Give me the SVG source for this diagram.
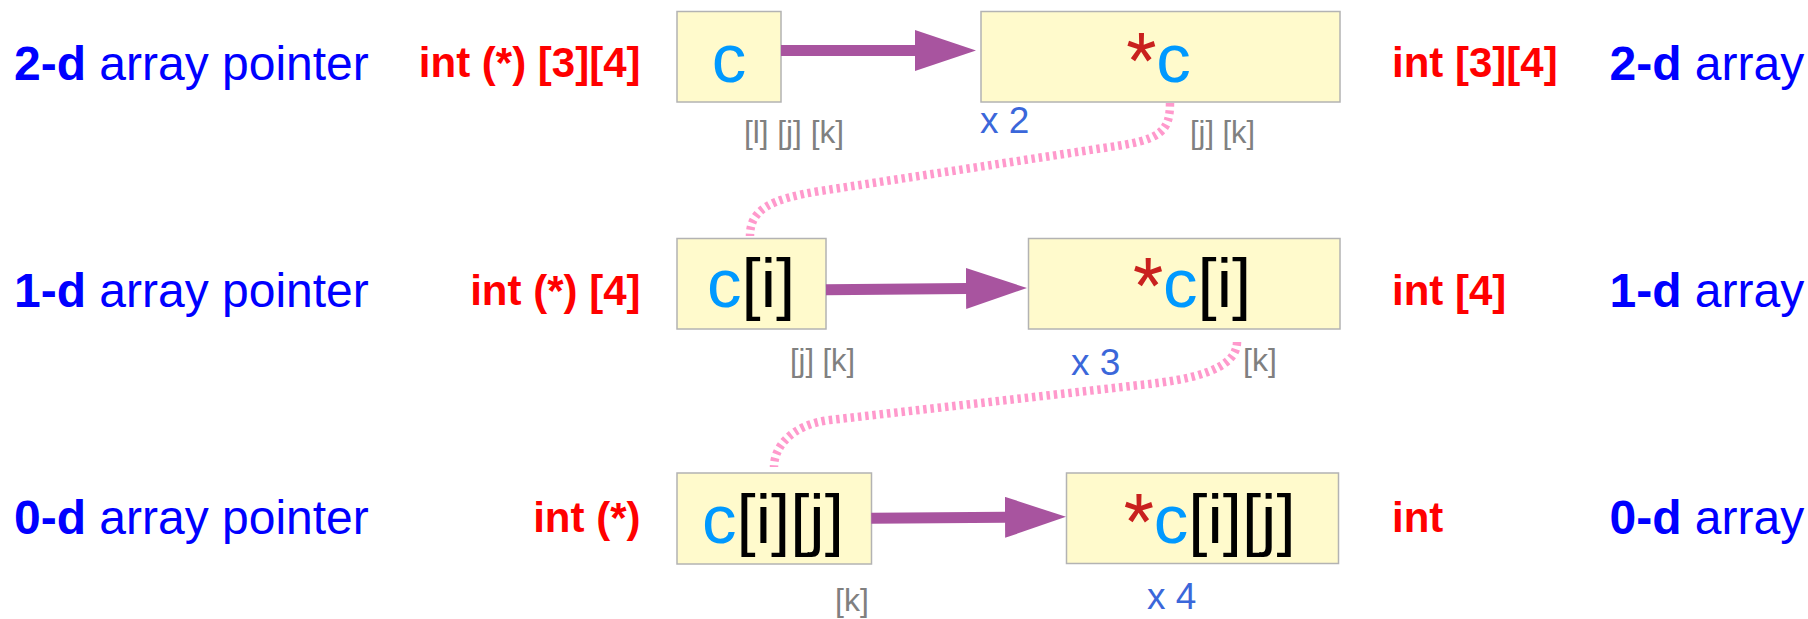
<svg xmlns="http://www.w3.org/2000/svg" width="1808" height="619" viewBox="0 0 1808 619">
<style>
.bg{fill:#ffffff}
.box{fill:#fffacc;stroke:#b3b3b3;stroke-width:1.5}
.lbl{font-family:"Liberation Sans",Arial,sans-serif;font-size:48px;fill:#0000ff}
.typ{font-family:"Liberation Sans",Arial,sans-serif;font-size:42px;font-weight:bold;fill:#ff0000}
.big{font-family:"Liberation Sans",Arial,sans-serif;font-size:69px;fill:#000000}
.cv{fill:#0099ff}
.ast{font-family:Roboto,"Liberation Sans",sans-serif;fill:#c9211e}
.idx{font-family:"Liberation Sans",Arial,sans-serif;font-size:32px;fill:#808080}
.mul{font-family:"Liberation Sans",Arial,sans-serif;font-size:37px;fill:#3b67da}
.arr{stroke:#a8549f;stroke-width:11;fill:none}
.deref{stroke:#ff99cc;stroke-width:8.5;stroke-dasharray:3.5 3.8;fill:none}
</style>
<defs>
<marker id="ah" markerUnits="userSpaceOnUse" viewBox="0 0 61 41" markerWidth="61" markerHeight="41" refX="1" refY="20.5" orient="auto">
<path d="M0,0 L61,20.5 L0,41 Z" fill="#a8549f"/>
</marker>
</defs>
<rect class="bg" x="0" y="0" width="1808" height="619"/>

<g id="labels-left">
<text class="lbl" x="14" y="79.5"><tspan font-weight="bold">2-d</tspan> array pointer</text>
<text class="lbl" x="14" y="306.5"><tspan font-weight="bold">1-d</tspan> array pointer</text>
<text class="lbl" x="14" y="533.5"><tspan font-weight="bold">0-d</tspan> array pointer</text>
<text class="typ" x="640.5" y="77" text-anchor="end">int (*) [3][4]</text>
<text class="typ" x="640.5" y="304.5" text-anchor="end">int (*) [4]</text>
<text class="typ" x="640.5" y="531.5" text-anchor="end">int (*)</text>
</g>

<g id="labels-right">
<text class="typ" x="1392" y="77">int [3][4]</text>
<text class="typ" x="1392" y="304.5">int [4]</text>
<text class="typ" x="1392" y="531.5">int</text>
<text class="lbl" x="1609.5" y="79.5"><tspan font-weight="bold">2-d</tspan> array</text>
<text class="lbl" x="1609.5" y="306.5"><tspan font-weight="bold">1-d</tspan> array</text>
<text class="lbl" x="1609.5" y="533.5"><tspan font-weight="bold">0-d</tspan> array</text>
</g>

<g id="node-c">
<rect class="box" x="677" y="11.5" width="104" height="90.5"/>
<text class="big" x="729" y="82" text-anchor="middle"><tspan class="cv">c</tspan></text>
<text class="idx" x="744" y="143" textLength="100" lengthAdjust="spacingAndGlyphs">[l] [j] [k]</text>
</g>

<g id="node-star-c">
<rect class="box" x="981" y="11.5" width="359" height="90.5"/>
<text class="big" x="1126.6" y="82"><tspan class="ast">*</tspan><tspan class="cv">c</tspan></text>
<text class="mul" x="980" y="132.5">x 2</text>
<text class="idx" x="1190" y="143" textLength="65" lengthAdjust="spacingAndGlyphs">[j] [k]</text>
</g>

<g id="node-c-i">
<rect class="box" x="677" y="238.5" width="149" height="90.5"/>
<text class="big" x="707" y="306.5"><tspan class="cv">c</tspan>[i]</text>
<text class="idx" x="790" y="370.5" textLength="65" lengthAdjust="spacingAndGlyphs">[j] [k]</text>
</g>

<g id="node-star-c-i">
<rect class="box" x="1028.5" y="238.5" width="311.5" height="90.5"/>
<text class="big" x="1133.3" y="306.5"><tspan class="ast">*</tspan><tspan class="cv">c</tspan>[i]</text>
<text class="mul" x="1071" y="374.5">x 3</text>
<text class="idx" x="1243" y="370.5">[k]</text>
</g>

<g id="node-c-i-j">
<rect class="box" x="677" y="473" width="194.5" height="91"/>
<text class="big" x="702" y="542.5"><tspan class="cv">c</tspan>[i][j]</text>
<text class="idx" x="835" y="611">[k]</text>
</g>

<g id="node-star-c-i-j">
<rect class="box" x="1066.5" y="473" width="272" height="90.5"/>
<text class="big" x="1124" y="542.5"><tspan class="ast">*</tspan><tspan class="cv">c</tspan>[i][j]</text>
<text class="mul" x="1147" y="608.5">x 4</text>
</g>

<g id="connectors">
<path class="arr" d="M781,50.5 L916,50.5" marker-end="url(#ah)"/>
<path class="arr" d="M826,289.7 L967,288.5" marker-end="url(#ah)"/>
<path class="arr" d="M871.3,518.3 L1006,517.3" marker-end="url(#ah)"/>
<path class="deref" d="M1170,103 C1170,132 1160,140 1110,147 L820,191 C770,199 750,210 750,236"/>
<path class="deref" d="M1237,342 C1237,370 1190,380 1140,385 L830,420 C790,425 774,448 774,467"/>
</g>
</svg>
